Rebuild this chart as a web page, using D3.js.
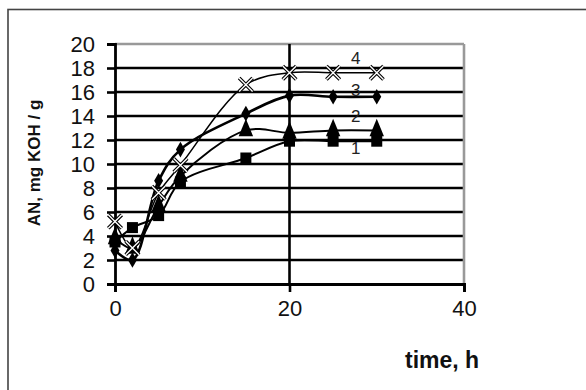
<!DOCTYPE html>
<html lang="en">
  <head>
    <meta charset="UTF-8">
    <title>AN vs time</title>
    <script src="https://d3js.org/d3.v7.min.js"></script>
    <style>
      body { margin: 0; background: #fff; }
      text { font-family: "Liberation Sans", Arial, sans-serif; }
    </style>
  </head>
  <body>

<script>
  // time, h
  const hours = [0, 2, 5, 7.5, 15, 20, 25, 30];
  // acid number, mg KOH / g, curves 1..4
  const an1 = [3.5, 4.7, 5.7, 8.5, 10.5, 11.9, 11.9, 11.9];
  const an2 = [3.8, 3.0, 6.5, 9.0, 12.8, 12.6, 12.8, 12.8];
  const an3 = [2.8, 2.0, 8.6, 11.2, 14.2, 15.7, 15.6, 15.6];
  const an4 = [5.2, 3.0, 7.6, 9.9, 16.6, 17.6, 17.6, 17.6];
  const curveNames = ["1", "2", "3", "4"];
  const xTicks = [0, 20, 40];
  const yTicks = [0, 2, 4, 6, 8, 10, 12, 14, 16, 18, 20];

  const w = 586;
  const h = 390;

  const xScale = d3.scaleLinear().domain([0, 40]).range([115, 464]);
  const yScale = d3.scaleLinear().domain([0, 20]).range([284, 44]);

  const svg = d3.select("body")
                .append("svg")
                .attr("width", w)
                .attr("height", h);

  // outer frame (only top & left visible)
  svg.append("rect")
     .attr("x", 8).attr("y", 9.5)
     .attr("width", 600).attr("height", 400)
     .attr("fill", "none")
     .attr("stroke", "#444")
     .attr("stroke-width", 1.6);

  // horizontal grid
  svg.selectAll(".hgrid")
     .data(yTicks.filter(d => d > 0))
     .enter()
     .append("line")
     .attr("x1", xScale(0)).attr("x2", xScale(40))
     .attr("y1", d => yScale(d)).attr("y2", d => yScale(d))
     .attr("stroke", d => d === 20 ? "#999" : "#000")
     .attr("stroke-width", 2.6);

  // vertical grid
  svg.selectAll(".vgrid")
     .data(xTicks.filter(d => d > 0))
     .enter()
     .append("line")
     .attr("x1", d => xScale(d)).attr("x2", d => xScale(d))
     .attr("y1", yScale(0)).attr("y2", yScale(20))
     .attr("stroke", d => d === 40 ? "#999" : "#000")
     .attr("stroke-width", 2.6);

  const xAxis = d3.axisBottom(xScale).tickValues(xTicks).tickSize(8).tickPadding(8);
  const gx = svg.append("g")
     .attr("transform", `translate(0, ${yScale(0)})`)
     .call(xAxis);

  const yAxis = d3.axisLeft(yScale).tickValues(yTicks).tickSize(8).tickPadding(12);
  const gy = svg.append("g")
     .attr("transform", `translate(${xScale(0)},0)`)
     .call(yAxis);

  [gx, gy].forEach(g => {
    g.select(".domain").attr("stroke", "#000").attr("stroke-width", 2.8);
    g.selectAll(".tick line").attr("stroke", "#000").attr("stroke-width", 2.6);
    g.selectAll(".tick text")
     .attr("fill", "#111")
     .style("font-size", "22px")
     .style("font-family", "'Liberation Sans', Arial, sans-serif");
  });
  gx.selectAll(".tick line").attr("y1", -1);
  gy.selectAll(".tick text").attr("dy", "0.36em");

  // axis titles
  svg.append("text")
     .attr("transform", `translate(40, ${yScale(10) - 1}) rotate(-90)`)
     .attr("text-anchor", "middle")
     .style("font-size", "17px")
     .style("font-weight", "bold")
     .attr("fill", "#111")
     .text("AN, mg KOH / g");

  svg.append("text")
     .attr("x", 405).attr("y", 368)
     .style("font-size", "23px")
     .style("font-weight", "bold")
     .attr("fill", "#111")
     .text("time, h");

  const series = [an1, an2, an3, an4].map((vals, i) => ({
    name: curveNames[i],
    points: hours.map((t, j) => [t, vals[j]])
  }));
  const lineWidths = [2, 2, 2.6, 1.5];

  const line = d3.line()
                 .x(d => xScale(d[0]))
                 .y(d => yScale(d[1]))
                 .curve(d3.curveCatmullRom.alpha(0.5));

  svg.selectAll(".curve")
     .data(series)
     .enter()
     .append("path")
     .attr("d", d => line(d.points))
     .attr("fill", "none")
     .attr("stroke", "#000")
     .attr("stroke-width", (d, i) => lineWidths[i]);

  // markers
  svg.append("g").selectAll("rect")
    .data(series[0].points)
    .enter()
    .append("rect")
    .attr("x", d => xScale(d[0]) - 5.5)
    .attr("y", d => yScale(d[1]) - 5.5)
    .attr("width", 11).attr("height", 11)
    .attr("fill", "#000");

  const triangle = d3.symbol().type(d3.symbolTriangle).size(90);
  svg.append("g").selectAll("path")
    .data(series[1].points)
    .enter()
    .append("path")
    .attr("d", triangle)
    .attr("transform", d => `translate(${xScale(d[0])},${yScale(d[1])}) scale(1,1.4)`)
    .attr("fill", "#000");

  const diamond = d3.symbol().type(d3.symbolDiamond).size(70);
  svg.append("g").selectAll("path")
    .data(series[2].points)
    .enter()
    .append("path")
    .attr("d", diamond)
    .attr("transform", d => `translate(${xScale(d[0])},${yScale(d[1])})`)
    .attr("fill", "#000");

  const cross = d3.symbol().type(d3.symbolX).size(120);
  const g4 = svg.append("g").selectAll("g")
    .data(series[3].points)
    .enter()
    .append("g")
    .attr("transform", d => `translate(${xScale(d[0])},${yScale(d[1])})`);
  g4.append("path").attr("d", cross).attr("fill", "none").attr("stroke", "#000").attr("stroke-width", 3.6);
  g4.append("path").attr("d", cross).attr("fill", "none").attr("stroke", "#fff").attr("stroke-width", 1.4);

  // curve numbers
  const labelDy = [7, -15, -7, -15];
  svg.selectAll(".cname")
     .data(series)
     .enter()
     .append("text")
     .attr("x", xScale(27.6))
     .attr("y", (d, i) => yScale(d.points[d.points.length - 1][1]) + labelDy[i])
     .attr("dy", "0.36em")
     .attr("text-anchor", "middle")
     .style("font-size", "17px")
     .attr("fill", "#222")
     .text(d => d.name);
</script>

  </body>
</html>
